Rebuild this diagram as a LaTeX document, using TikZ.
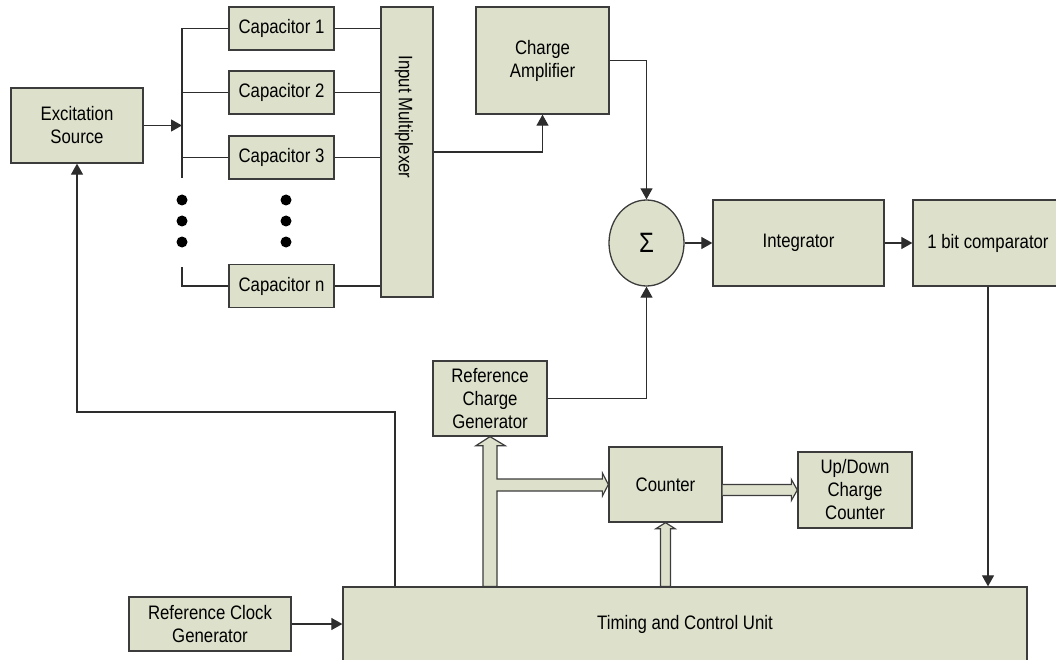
\documentclass[tikz,border=0pt]{standalone}
\usepackage{fontspec}
\setmainfont{Liberation Sans}[FakeStretch=0.86]
\usetikzlibrary{arrows.meta,shapes.geometric,calc}
\definecolor{blkfill}{RGB}{221,224,203}
\definecolor{blkline}{RGB}{60,60,60}
\definecolor{wirecol}{RGB}{45,45,45}
\tikzset{
  blk/.style={draw=blkline, fill=blkfill, line width=1.3pt, align=center,
    inner sep=0pt, font=\fontsize{19.5}{23}\selectfont},
  wire/.style={draw=wirecol, line width=1.2pt},
  bus/.style={draw=blkline, fill=blkfill, line width=1.2pt, line join=miter},
}
\begin{document}
\begin{tikzpicture}[x=1pt, y=-1pt, >={Triangle[length=11pt,width=12pt]}]
      
        \clip (0,0) rectangle (1056,660);
      
        % Blokken
        \node[blk, minimum width=132, minimum height=75] (exc) at (77,125.5) {Excitation\\Source};
        \node[blk, minimum width=105, minimum height=43] (cap1) at (281.5,28.5) {Capacitor 1};
        \node[blk, minimum width=105, minimum height=43] (cap2) at (281.5,92.5) {Capacitor 2};
        \node[blk, minimum width=105, minimum height=43] (cap3) at (281.5,157.5) {Capacitor 3};
        \node[blk, minimum width=105, minimum height=43] (capn) at (281.5,286) {Capacitor n};
        \node[blk, minimum width=52, minimum height=290] (mux) at (407,152) {};
        \node[blk, draw=none, fill=none, rotate=-90] (muxlbl) at (404,117) {Input Multiplexer};
        \node[blk, minimum width=133, minimum height=107] (amp) at (542.5,60.5) {Charge\\Amplifier};
        \node[blk, ellipse, minimum width=75, minimum height=86,
              font=\fontsize{28}{28}\selectfont] (sum) at (646.5,243) {Σ};
        \node[blk, minimum width=171, minimum height=86] (integ) at (798.5,243) {Integrator};
        \node[blk, minimum width=150, minimum height=86] (comp) at (988,243) {1 bit comparator};
        \node[blk, minimum width=114, minimum height=75] (rcg) at (490,398.5) {Reference\\Charge\\Generator};
        \node[blk, minimum width=113, minimum height=75] (cnt) at (665.5,484.5) {Counter};
        \node[blk, minimum width=114, minimum height=76] (udc) at (855,490) {Up/Down\\Charge\\Counter};
        \node[blk, minimum width=162, minimum height=54] (rclk) at (210,624) {Reference Clock\\Generator};
        \node[blk, minimum width=684, minimum height=74] (tcu) at (685,624) {Timing and Control Unit};
      
        % Verdeellijn naar de condensatoren
        \coordinate (bustop) at (182,28.5);
        \coordinate (busend) at (182,178);
        \coordinate (busn) at (182,267);
        \draw[wire,->] (exc.east) -- (exc.east -| bustop);
        \draw[wire] (cap1.west) -- (bustop) -- (busend);
        \draw[wire] (cap2.west) -- (cap2.west -| bustop);
        \draw[wire] (cap3.west) -- (cap3.west -| bustop);
        \draw[wire] (capn.west) -| (busn);
      
        % Puntjes
        \fill (182,200) circle[radius=5.5pt];
        \fill (182,221) circle[radius=5.5pt];
        \fill (182,242) circle[radius=5.5pt];
        \fill (286,200) circle[radius=5.5pt];
        \fill (286,221) circle[radius=5.5pt];
        \fill (286,242) circle[radius=5.5pt];
      
        % Condensatoren naar multiplexer
        \draw[wire] (cap1.east) -- (cap1.east -| mux.west);
        \draw[wire] (cap2.east) -- (cap2.east -| mux.west);
        \draw[wire] (cap3.east) -- (cap3.east -| mux.west);
        \draw[wire] (capn.east) -- (capn.east -| mux.west);
      
        % Signaalpad
        \draw[wire,->] (mux.east) -| (amp.south);
        \draw[wire,->] (amp.east) -| (sum.north);
        \draw[wire,->] (sum.east) -- (integ.west);
        \draw[wire,->] (integ.east) -- (comp.west);
        \draw[wire,->] (comp.south) -- (comp.south |- tcu.north);
        \draw[wire,->] (rcg.east) -| (sum.south);
        \draw[wire,->] (rclk.east) -- (tcu.west);
      
        % Terugkoppeling naar de bron
        \coordinate (fb) at (395,412);
        \draw[wire,->] (fb |- tcu.north) -- (fb) -| (exc.south);
      
        % Bussen (holle pijlen)
        \filldraw[bus] (rcg.south) -- ++(15,9) -- ++(-8,0)
            |- ($(cnt.west)+(-6,-5.5)$) -- ++(0,-6) -- (cnt.west) -- ++(-6,11.5) -- ++(0,-5)
            -| ($(rcg.south |- tcu.north)+(7,0)$) -- ++(-14,0)
            -- ($(rcg.south)+(-7,9)$) -- ++(-7,0) -- cycle;
      
        \filldraw[bus] ($(cnt.east |- udc.west)+(0,-5.5)$) -- ($(udc.west)+(-6,-5.5)$) -- ++(0,-5)
            -- (udc.west) -- ++(-6,10.5) -- ++(0,-5) -- ($(cnt.east |- udc.west)+(0,5.5)$);
      
        \filldraw[bus] (cnt.south) -- ++(9.5,6) -- ++(-4.5,0)
            -- ($(cnt.south |- tcu.north)+(5,0)$) -- ++(-10,0)
            -- ($(cnt.south)+(-5,6)$) -- ++(-4.5,0) -- cycle;
      
      \end{tikzpicture}
\end{document}
